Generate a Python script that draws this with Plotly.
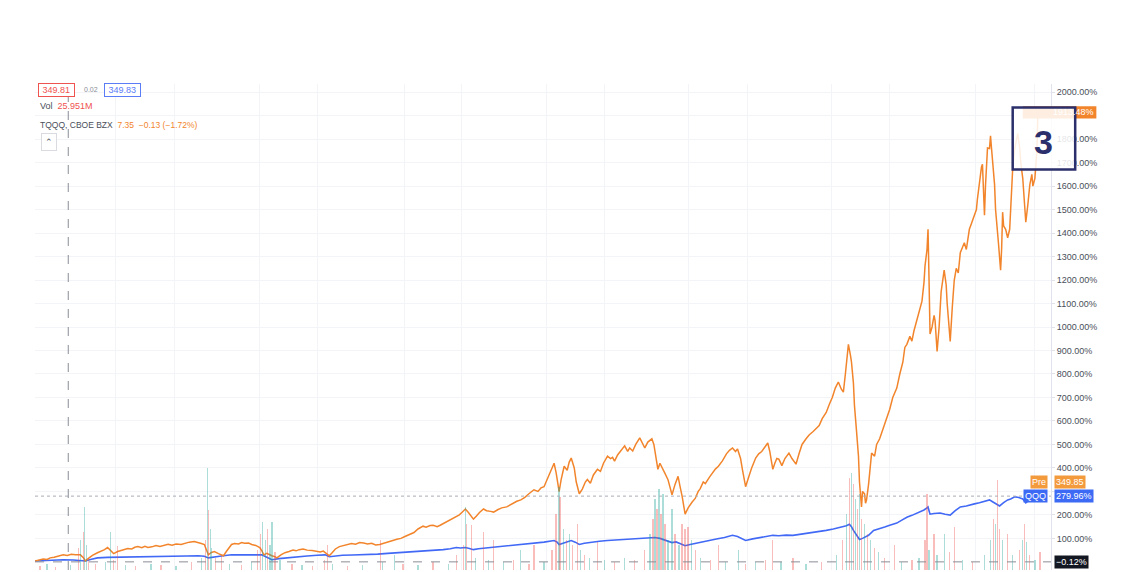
import plotly.graph_objects as go

# ---------------- data ----------------
tqqq_session = [0, 4, 8, 12, 15, 19, 23, 28, 32, 36, 40, 45, 48, 50, 53, 57, 62, 66, 69, 72, 75, 78, 82, 85, 88, 92,
                96, 99, 102, 106, 109, 112, 116, 120, 124, 128, 132, 136, 140, 145, 149, 153, 158, 162, 165, 168,
                170, 172, 175, 178, 182, 185, 187, 190, 193, 195, 198, 202, 205, 208, 212, 215, 219, 223, 225, 227,
                230, 233, 235, 238, 240, 244, 248, 252, 256, 259, 262, 266, 270, 275, 279, 283, 286, 288, 290, 292,
                295, 298, 302, 306, 310, 314, 318, 322, 326, 330, 334, 338, 342, 346, 350, 355, 359, 363, 367, 372,
                376, 380, 385, 388, 392, 395, 399, 402, 406, 410, 414, 418, 421, 424, 427, 430, 433, 435, 438, 441,
                445, 448, 452, 455, 459, 463, 468, 472, 475, 478, 482, 486, 490, 495, 499, 502, 505, 508, 511, 513,
                515, 517, 519, 520, 522, 525, 528, 530, 532, 535, 537, 540, 543, 546, 548, 551, 554, 558, 561, 564,
                568, 571, 573, 575, 578, 581, 585, 588, 590, 593, 596, 600, 602, 605, 608, 612, 614, 616, 618, 620,
                622, 625, 628, 630, 632, 635, 638, 640, 642, 645, 648, 652, 655, 658, 660, 663, 665, 669, 672, 675,
                678, 682, 686, 689, 692, 695, 697, 700, 702, 705, 708, 711, 715, 718, 721, 724, 727, 729, 732, 734,
                736, 738, 741, 744, 748, 751, 755, 758, 761, 765, 768, 772, 775, 778, 781, 785, 788, 791, 794, 797,
                800, 802, 804, 806, 807, 809, 810, 812, 813, 815, 817, 818, 820, 821, 823, 824, 825, 827, 830, 833,
                835, 838, 841, 843, 845, 848, 851, 855, 858, 861, 863, 865, 868, 870, 872, 875, 878, 880, 882, 883,
                885, 886, 887, 888, 890, 892, 893, 894, 895, 897, 899, 902, 904, 905, 907, 908, 910, 912, 914, 916,
                918, 920, 922, 924, 927, 929, 932, 934, 935, 937, 939, 940, 941, 942, 943, 945, 947, 948, 949, 950,
                952, 953, 955, 956, 958, 959, 960, 961, 963, 965, 967, 968, 970, 972, 975, 977, 978, 980, 981, 983,
                985, 987, 989, 990, 992, 994, 995]
tqqq_pct = [4, 8, 12, 10, 17, 20, 25, 30, 27, 32, 30, 30, 18, 4, 15, 28, 39, 45, 52, 61, 48, 35, 44, 48, 52, 57,
            55, 62, 65, 60, 66, 61, 64, 70, 66, 69, 75, 71, 76, 74, 80, 84, 87, 80, 78, 74,
            55, 30, 40, 44, 35, 30, 26, 45, 65, 74, 78, 76, 82, 79, 80, 74, 70, 61, 48, 30,
            36, 28, 26, 22, 17, 30, 39, 44, 50, 47, 52, 55, 50, 48, 45, 42, 46, 39, 32, 26,
            40, 55, 65, 70, 73, 78, 75, 82, 80, 76, 79, 72, 74, 80, 86, 91, 96, 100, 108, 117,
            125, 140, 152, 148, 155, 156, 150, 156, 165, 175, 182, 190, 200, 212, 225, 210, 195, 182, 195, 210,
            225, 218, 215, 212, 222, 230, 234, 245, 250, 258, 264, 275, 290, 307, 300, 315, 320, 350, 385, 405,
            420, 380, 330, 299, 350, 407, 390, 425, 442, 400, 340, 290, 310, 340, 351, 335, 370, 394, 385, 420,
            450, 440, 445, 429, 455, 470, 494, 470, 485, 472, 500, 528, 510, 485, 510, 524, 500, 450, 394, 420,
            400, 377, 350, 320, 286, 330, 364, 320, 280, 203, 230, 255, 270, 300, 312, 340, 333, 360, 380, 395,
            407, 430, 460, 475, 485, 470, 481, 440, 390, 320, 360, 400, 442, 460, 470, 490, 506, 470, 394, 420,
            440, 437, 410, 440, 463, 440, 416, 460, 500, 524, 540, 555, 567, 580, 610, 636, 670, 700, 740, 766,
            735, 723, 800, 880, 926, 880, 853, 760, 667, 560, 450, 340, 234, 300, 290, 250, 264, 330, 463, 450,
            500, 524, 560, 590, 610, 650, 700, 740, 800, 850, 913, 926, 960, 940, 983, 1030, 1069, 1110, 1190, 1260,
            1330, 1416, 1200, 970, 1000, 1050, 1026, 960, 896, 1000, 1150, 1242, 1180, 1100, 1000, 939, 1080, 1199, 1250, 1230,
            1316, 1340, 1359, 1330, 1416, 1440, 1476, 1500, 1545, 1620, 1680, 1693, 1560, 1476, 1600, 1762, 1760, 1814, 1760, 1700,
            1606, 1500, 1416, 1350, 1242, 1330, 1489, 1430, 1416, 1380, 1416, 1500, 1675, 1760, 1823, 1760, 1700, 1632, 1550, 1446,
            1520, 1606, 1650, 1600, 1632, 1750, 1911]

qqq_session = [0, 10, 20, 28, 38, 45, 50, 55, 62, 72, 82, 95, 105, 115, 128, 140, 150, 162, 168, 172, 178, 185,
               195, 205, 215, 225, 230, 235, 242, 250, 262, 270, 280, 288, 292, 298, 305, 315, 328, 340, 350,
               362, 375, 385, 395, 405, 412, 418, 422, 427, 431, 435, 440, 450, 460, 468, 476, 485, 495, 505,
               515, 518, 520, 525, 532, 536, 540, 545, 552, 560, 568, 578, 588, 598, 608, 615, 620, 625, 628,
               632, 636, 640, 645, 650, 658, 668, 676, 684, 692, 697, 702, 705, 712, 720, 726, 732, 738, 745,
               752, 760, 768, 775, 785, 792, 800, 805, 808, 810, 812, 815, 818, 821, 824, 827, 832, 838, 843,
               848, 855, 860, 865, 870, 875, 880, 882, 885, 886, 887, 888, 892, 898, 903, 908, 913, 918, 924,
               928, 932, 937, 942, 947, 950, 954, 957, 961, 965, 968, 972, 976, 980, 983, 985, 988]
qqq_pct = [4, 6, 8, 9, 8, 7, 4, 10, 17, 19, 20, 22, 23, 24, 26, 27, 25, 26, 24, 17, 22, 25,
           30, 31, 30, 30, 20, 9, 14, 18, 22, 25, 28, 30, 22, 26, 28, 29, 30, 33, 36,
           39, 42, 45, 48, 52, 56, 61, 59, 61, 57, 52, 56, 60, 64, 69, 71, 74, 78, 84,
           91, 84, 74, 82, 91, 84, 74, 79, 84, 88, 91, 94, 98, 100, 103, 104, 100, 92, 88,
           82, 85, 78, 69, 74, 82, 91, 97, 104, 113, 108, 98, 91, 98, 104, 108, 113, 111, 114,
           113, 118, 122, 126, 134, 140, 148, 154, 160, 150, 134, 112, 95, 100, 105, 113, 134, 140, 148,
           156, 165, 178, 190, 198, 207, 215, 221, 230, 234, 218, 203, 206, 208, 203, 199, 218, 234, 238,
           244, 247, 252, 258, 264, 256, 245, 238, 252, 264, 268, 277, 274, 268, 251, 258, 280]

vol_session = [5, 12, 20, 35, 43, 45, 48, 49, 51, 53, 60, 70, 75, 78, 82, 90, 100, 115, 125, 140, 155, 165,
               169, 171, 172, 174, 175, 179, 185, 193, 205, 215, 221, 224, 226, 229, 231, 233, 235, 238, 243,
               255, 265, 275, 287, 290, 295, 310, 325, 343, 345, 357, 365, 380, 395, 410, 418, 425, 427, 428,
               433, 437, 445, 450, 455, 465, 475, 482, 490, 495, 505, 513, 517, 520, 521, 524, 527, 530, 533,
               538, 541, 545, 550, 558, 565, 575, 585, 595, 605, 610, 613, 615, 617, 619, 621, 623, 625, 628,
               632, 635, 639, 642, 645, 648, 651, 655, 660, 670, 678, 685, 698, 705, 715, 725, 732, 740, 752,
               765, 780, 795, 801, 805, 808, 810, 812, 814, 816, 818, 820, 823, 826, 829, 833, 837, 843, 853,
               860, 870, 877, 883, 885, 887, 892, 895, 902, 907, 912, 920, 930, 942, 948, 951, 953, 955, 957,
               960, 965, 970, 977, 980, 982, 984, 987, 992, 997]
vol_value = [4, 6, 3, 5, 22, 30, 37, 62, 25, 12, 6, 8, 37, 10, 24, 5, 4, 6, 5, 4, 8, 12,
             30, 100, 59, 40, 22, 12, 14, 6, 5, 8, 20, 35, 47, 30, 40, 25, 47, 18, 10,
             6, 5, 4, 10, 25, 6, 4, 5, 30, 8, 15, 6, 5, 8, 6, 15, 25, 62, 45,
             44, 12, 37, 10, 30, 8, 10, 20, 6, 25, 8, 20, 55, 82, 72, 40, 30, 35, 25,
             45, 20, 15, 12, 28, 10, 8, 12, 10, 20, 35, 50, 70, 60, 80, 55, 75, 45, 30,
             60, 35, 25, 45, 40, 42, 30, 20, 12, 10, 25, 8, 20, 6, 8, 10, 30, 8, 12,
             6, 8, 15, 30, 55, 90, 95, 85, 70, 60, 75, 50, 45, 35, 30, 22, 18, 12, 25,
             8, 10, 12, 30, 75, 20, 35, 15, 35, 18, 42, 10, 8, 15, 30, 50, 45, 89, 40,
             30, 35, 15, 20, 30, 45, 28, 15, 10, 18]
vol_dir = ['d', 'u', 'd', 'u', 'd', 'u', 'd', 'u', 'u', 'd', 'd', 'u', 'u', 'd', 'd', 'u', 'd', 'u', 'd', 'u', 'd', 'u',
           'd', 'u', 'd', 'u', 'u', 'd', 'd', 'u', 'd', 'u', 'd', 'd', 'u', 'u', 'd', 'u', 'u', 'd', 'u',
           'd', 'u', 'd', 'd', 'd', 'u', 'd', 'u', 'd', 'u', 'u', 'd', 'u', 'd', 'u', 'd', 'd', 'u', 'd',
           'd', 'u', 'd', 'u', 'd', 'u', 'd', 'u', 'd', 'd', 'u', 'd', 'd', 'u', 'd', 'u', 'd', 'u', 'd',
           'd', 'u', 'd', 'u', 'd', 'u', 'd', 'u', 'd', 'd', 'u', 'd', 'u', 'd', 'u', 'd', 'u', 'd', 'u',
           'u', 'd', 'u', 'd', 'd', 'd', 'u', 'd', 'u', 'd', 'd', 'u', 'u', 'd', 'u', 'd', 'd', 'u', 'd',
           'u', 'd', 'u', 'd', 'u', 'd', 'u', 'd', 'u', 'd', 'u', 'd', 'u', 'd', 'u', 'd', 'u', 'd', 'd',
           'u', 'd', 'u', 'd', 'd', 'u', 'd', 'u', 'u', 'd', 'd', 'u', 'd', 'u', 'u', 'd', 'u', 'd', 'd',
           'u', 'd', 'u', 'd', 'u', 'd', 'u', 'd', 'u', 'd']

y_ticks = list(range(100, 2001, 100))
# tick labels hidden behind the price tags on the scale
hidden_ticks = [300, 1900]
y_tick_text = ["" if v in hidden_ticks else f"{v}.00%" for v in y_ticks]
time_grid = [80, 138, 223, 280, 367, 423, 507, 565, 648, 707, 790, 848, 933, 992]

crosshair_session = 33
qqq_last_pct = 280
pre_level = 338

# ---------------- style ----------------
ORANGE = "#f2852c"
BLUE = "#4169f5"
UP = "rgba(38,166,154,0.38)"
DOWN = "rgba(239,83,80,0.38)"
GRID = "#f2f4f8"
FONT = "Liberation Sans"

fig = go.Figure()

fig.add_trace(go.Bar(
    x=vol_session, y=vol_value, yaxis="y2",
    marker=dict(color=[UP if d == 'u' else DOWN for d in vol_dir], line=dict(width=0)),
    width=1.3, hoverinfo="skip", showlegend=False))

fig.add_trace(go.Scatter(x=qqq_session, y=qqq_pct, mode="lines",
                         line=dict(color=BLUE, width=1.6), showlegend=False))
fig.add_trace(go.Scatter(x=tqqq_session, y=tqqq_pct, mode="lines",
                         line=dict(color=ORANGE, width=1.5), showlegend=False))

X_MAX = 1008
# page body has an 8px margin: plot area spans px 35..1043 horizontally, 84..562 vertically
fig.update_layout(
    width=1117, height=564,
    margin=dict(l=27, r=74, t=76, b=2),
    paper_bgcolor="white", plot_bgcolor="white",
    font=dict(family=FONT, size=9, color="#4a4e59"),
    bargap=0,
    xaxis=dict(range=[0, X_MAX], tickvals=time_grid, showticklabels=False,
               showgrid=True, gridcolor=GRID, zeroline=False, ticks=""),
    yaxis=dict(range=[-34.6, 2034.6], side="right", tickvals=y_ticks, ticktext=y_tick_text,
               showgrid=True, gridcolor=GRID, zeroline=False, ticks="outside", ticklen=3,
               tickcolor="#e0e3eb", showline=True, linecolor="#e0e3eb",
               tickfont=dict(size=9, color="#4a4e59")),
    yaxis2=dict(range=[0, 478], overlaying="y", visible=False),
)

# reference lines
fig.add_hline(y=qqq_last_pct, line=dict(color="#a9acb5", width=1, dash="dot"))
fig.add_hline(y=0, line=dict(color="#8a8d96", width=1, dash="dash"))
fig.add_vline(x=crosshair_session, line=dict(color="#8a8d96", width=1, dash="dash"))

def px_x(px):
    return (px - 35) / 1008

def px_y(py):
    return (562 - py) / 478

# right-axis price labels
def price_tag(yval, text, bg):
    fig.add_annotation(xref="paper", yref="y", x=1.0, y=yval, xanchor="left", yanchor="middle",
                       text=text, showarrow=False, bgcolor=bg, font=dict(color="white", size=9, family=FONT),
                       borderpad=1, xshift=3)

def name_tag(yval, text, bg):
    fig.add_annotation(xref="paper", yref="y", x=1.0, y=yval, xanchor="right", yanchor="middle",
                       text=text, showarrow=False, bgcolor=bg, font=dict(color="white", size=9, family=FONT),
                       borderpad=1, xshift=-3)

name_tag(pre_level, "Pre", "#f39a3d")
price_tag(pre_level, "349.85", "#f39a3d")
name_tag(qqq_last_pct, "QQQ", "#3d6af5")
price_tag(qqq_last_pct, "279.96%", "#3d6af5")
price_tag(0, "−0.12%", "#131722")

# TQQQ last-value label, mostly covered by the "3" box
fig.add_shape(type="rect", xref="paper", yref="paper", x0=px_x(1015), x1=px_x(1088),
              y0=px_y(118), y1=px_y(106), fillcolor="#f2852c", line=dict(width=0), layer="above")
fig.add_shape(type="rect", xref="paper", yref="paper", x0=px_x(1005), x1=px_x(1067),
              y0=px_y(168), y1=px_y(107), fillcolor="rgba(255,255,255,0.86)",
              line=dict(color="#2b2f6b", width=2.5), layer="above")
fig.add_annotation(xref="paper", yref="paper", x=px_x(1087), y=px_y(112), xanchor="right",
                   yanchor="middle", text="1913.48%", showarrow=False,
                   font=dict(color="white", size=9), borderpad=0)
fig.add_annotation(xref="paper", yref="paper", x=px_x(1036), y=px_y(141), xanchor="center",
                   yanchor="middle", text="<b>3</b>", showarrow=False, borderpad=0,
                   font=dict(color="#2b2f6b", size=34, family="Liberation Sans"))

# top-left legend
fig.add_annotation(xref="paper", yref="paper", x=px_x(38), y=px_y(83), xanchor="left", yanchor="top",
                   text=" 349.81 ", showarrow=False, bordercolor="#ef5350", borderwidth=1, borderpad=1,
                   font=dict(color="#ef5350", size=9), bgcolor="white")
fig.add_annotation(xref="paper", yref="paper", x=px_x(82), y=px_y(84), xanchor="left", yanchor="top",
                   text="0.02", showarrow=False, font=dict(color="#8a8d96", size=7))
fig.add_annotation(xref="paper", yref="paper", x=px_x(103), y=px_y(83), xanchor="left", yanchor="top",
                   text=" 349.83 ", showarrow=False, bordercolor="#5b7cf7", borderwidth=1, borderpad=1,
                   font=dict(color="#5b7cf7", size=9), bgcolor="white")
fig.add_annotation(xref="paper", yref="paper", x=px_x(38), y=px_y(106), xanchor="left", yanchor="middle",
                   text="Vol  <span style='color:#ef5350'>25.951M</span>", showarrow=False,
                   font=dict(color="#4a4e59", size=9))
fig.add_annotation(xref="paper", yref="paper", x=px_x(38), y=px_y(124), xanchor="left", yanchor="middle",
                   text="TQQQ, CBOE BZX  <span style='color:#f2852c'>7.35  −0.13 (−1.72%)</span>",
                   showarrow=False, font=dict(color="#4a4e59", size=8.5))
fig.add_annotation(xref="paper", yref="paper", x=px_x(49), y=px_y(141), xanchor="center", yanchor="middle",
                   text="⌃", showarrow=False, bordercolor="#d9dbe0", borderwidth=1, borderpad=3,
                   bgcolor="white", font=dict(color="#4a4e59", size=9))

fig.write_html("out.html")
